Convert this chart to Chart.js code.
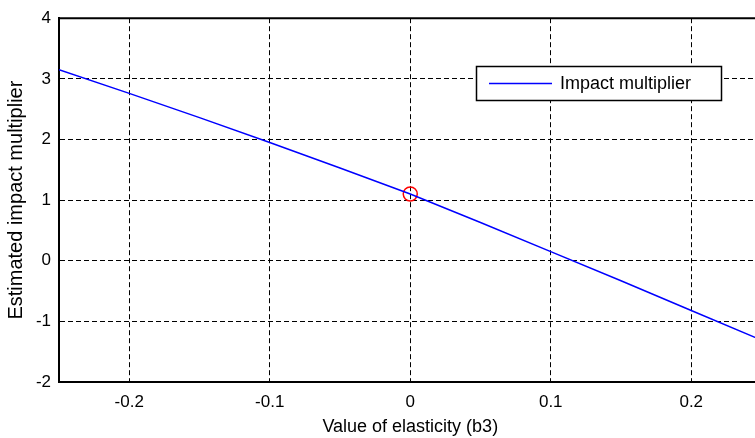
<!DOCTYPE html>
<html>
<head>
<meta charset="UTF-8">
<title>Impact multiplier</title>
<style>
  html, body { margin: 0; padding: 0; overflow: hidden; background: #fff; }
  #wrap { width: 755px; height: 438px; overflow: hidden; }
  #lineChart { width: 770px; height: 438px; display: block; }
</style>
</head>
<body>
	<div id="wrap">
	  <canvas id="lineChart" width="770" height="438"></canvas>
	</div>

	<script src="https://cdn.jsdelivr.net/npm/chart.js"></script>
	<script>
		// values
		const elasticity = [-0.25, -0.2, -0.15, -0.1, -0.05, 0, 0.05, 0.1, 0.15, 0.2, 0.25];
		const multiplier = [3.15, 2.76, 2.36, 1.95, 1.53, 1.1, 0.63, 0.15, -0.33, -0.82, -1.31];
		const markX = [0];
		const markY = [1.1];
		const xTicks = [-0.2, -0.1, 0, 0.1, 0.2];
		const yTicks = [-2, -1, 0, 1, 2, 3, 4];
		const seriesName = 'Impact multiplier';

		const font = { family: '"Liberation Sans", Arial, sans-serif', size: 17 };

		// legend box and top border, drawn like the matlab figure
		const boxPlugin = {
			id: 'boxPlugin',
			afterDraw(chart) {
				const ctx = chart.ctx;
				const a = chart.chartArea;
				ctx.save();
				ctx.strokeStyle = '#000';
				ctx.lineWidth = 2;
				ctx.beginPath();
				ctx.moveTo(a.left - 1, a.top);
				ctx.lineTo(a.right, a.top);
				ctx.stroke();

				ctx.fillStyle = '#fff';
				ctx.fillRect(476, 66, 245, 34);
				ctx.lineWidth = 1.5;
				ctx.strokeRect(476.5, 66.5, 245, 34);
				ctx.strokeStyle = '#0000ff';
				ctx.beginPath();
				ctx.moveTo(489, 83.5);
				ctx.lineTo(552, 83.5);
				ctx.stroke();
				ctx.fillStyle = '#000';
				ctx.font = '18px ' + font.family;
				ctx.textBaseline = 'middle';
				ctx.fillText(seriesName, 560, 84);
				ctx.restore();
			}
		};

		const ctx = document.getElementById('lineChart').getContext('2d');
		const lineChart = new Chart(ctx, {
			type: 'scatter',
			data: {
				datasets: [{
					label: seriesName,
					data: elasticity.map((x, i) => ({ x: x, y: multiplier[i] })),
					showLine: true,
					borderColor: '#0000ff',
					borderWidth: 1.5,
					pointRadius: 0,
					tension: 0
				}, {
					label: 'point',
					data: markX.map((x, i) => ({ x: x, y: markY[i] })),
					showLine: false,
					pointRadius: 7,
					pointBorderWidth: 1.5,
					pointBorderColor: '#ff0000',
					pointBackgroundColor: 'rgba(0,0,0,0)'
				}]
			},
			options: {
				responsive: false,
				animation: false,
				layout: { padding: { top: 15, right: 6, left: 0, bottom: 0 } },
				scales: {
					x: {
						type: 'linear',
						min: -0.25,
						max: 0.25,
						afterBuildTicks: (s) => { s.ticks = xTicks.map(v => ({ value: v })); },
						afterFit: (s) => { s.height = 56; },
						ticks: { color: '#000', font: font, padding: 10, maxRotation: 0,
							callback: (v) => String(v) },
						grid: { color: '#000', lineWidth: 1, drawTicks: false },
						border: { display: true, color: '#000', width: 2, dash: [5, 3] },
						title: { display: true, text: 'Value of elasticity (b3)', color: '#000', font: { family: font.family, size: 18 }, padding: { top: 4, bottom: 0 } }
					},
					y: {
						min: -2,
						max: 4,
						afterBuildTicks: (s) => { s.ticks = yTicks.map(v => ({ value: v })); },
						afterFit: (s) => { s.width = 59; },
						ticks: { color: '#000', font: font, padding: 8 },
						grid: { color: '#000', lineWidth: 1, drawTicks: false },
						border: { display: true, color: '#000', width: 2, dash: [5, 3] },
						title: { display: true, text: 'Estimated impact multiplier', color: '#000', font: { family: font.family, size: 20 }, padding: { top: 4, bottom: 4 } }
					}
				},
				plugins: {
					legend: { display: false },
					tooltip: { enabled: false }
				}
			},
			plugins: [boxPlugin]
		});
	</script>
</body>
</html>
